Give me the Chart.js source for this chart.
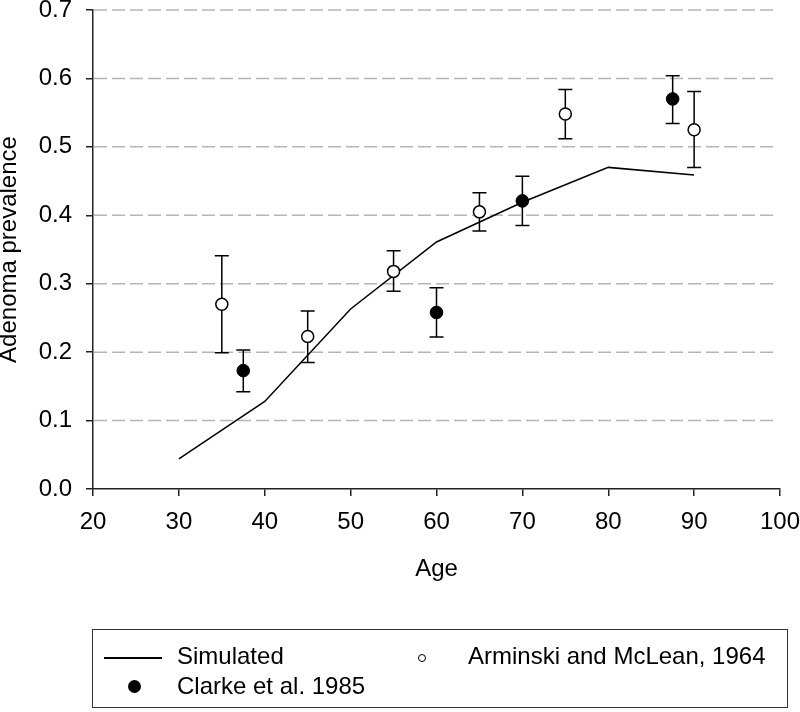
<!DOCTYPE html>
<html>
<head>
<meta charset="utf-8">
<title>Adenoma prevalence by age</title>
<script src="https://cdn.jsdelivr.net/npm/chart.js@4.4.1/dist/chart.umd.min.js"></script>
<style>
  html, body { margin: 0; padding: 0; background: #fff; }
  #wrap { position: relative; width: 800px; height: 712px; font-family: "Liberation Sans", Arial, sans-serif; }
  #legend { position: absolute; left: 92px; top: 629px; width: 696px; height: 79px; border: 1.5px solid #333; box-sizing: border-box; }
  .leg-text { position: absolute; font-size: 24px; line-height: 24px; color: #000; white-space: nowrap; }
  .leg-line { position: absolute; height: 1.5px; background: #000; }
  .leg-dot { position: absolute; border-radius: 50%; box-sizing: border-box; }
</style>
</head>
<body>
<div id="wrap">
  <canvas id="prevChart" width="800" height="712"></canvas>
  <div id="legend"></div>
</div>
<script>
// simulated curve
const simAge = [30, 40, 50, 60, 70, 80, 90];
const simPrev = [0.044, 0.128, 0.263, 0.361, 0.419, 0.470, 0.459];

// Clarke et al. 1985 (filled)
const clarkeAge = [37.5, 60, 70, 87.5];
const clarkePrev = [0.173, 0.258, 0.421, 0.570];
const clarkeLow = [0.142, 0.222, 0.385, 0.534];
const clarkeHigh = [0.203, 0.294, 0.457, 0.604];

// Arminski and McLean, 1964 (open)
const arminskiAge = [35, 45, 55, 65, 75, 90];
const arminskiPrev = [0.270, 0.223, 0.318, 0.405, 0.548, 0.525];
const arminskiLow = [0.199, 0.185, 0.289, 0.377, 0.512, 0.470];
const arminskiHigh = [0.341, 0.260, 0.348, 0.433, 0.584, 0.581];

const xTicks = [20, 30, 40, 50, 60, 70, 80, 90, 100];
const yTicks = [0, 0.1, 0.2, 0.3, 0.4, 0.5, 0.6, 0.7];

const legendLabels = ["Simulated", "Clarke et al. 1985", "Arminski and McLean, 1964"];

const FONT = "'Liberation Sans', Arial, sans-serif";

function toPoints(xs, ys) {
  return xs.map((x, i) => ({ x: x, y: ys[i] }));
}

// ------------------------------------------------------------
// dashed grid + error bars, drawn under the markers
// ------------------------------------------------------------
const gridAndErrors = {
  id: "gridAndErrors",
  beforeDatasetsDraw(chart) {
    const { ctx, chartArea, scales } = chart;
    const x = scales.x, y = scales.y;

    ctx.save();
    ctx.strokeStyle = "#b5b5b5";
    ctx.lineWidth = 1.5;
    ctx.setLineDash([13, 5]);
    yTicks.forEach(v => {
      if (v === 0) return;
      const py = y.getPixelForValue(v);
      ctx.beginPath();
      ctx.moveTo(chartArea.left + 1, py);
      ctx.lineTo(chartArea.right - 2, py);
      ctx.stroke();
    });
    ctx.restore();

    const bars = [
      [clarkeAge, clarkeLow, clarkeHigh],
      [arminskiAge, arminskiLow, arminskiHigh]
    ];
    ctx.save();
    ctx.strokeStyle = "#000";
    ctx.lineWidth = 1.5;
    bars.forEach(([ages, lo, hi]) => {
      ages.forEach((a, i) => {
        const px = x.getPixelForValue(a);
        const y1 = y.getPixelForValue(lo[i]);
        const y2 = y.getPixelForValue(hi[i]);
        ctx.beginPath();
        ctx.moveTo(px, y1); ctx.lineTo(px, y2);
        ctx.moveTo(px - 7, y1); ctx.lineTo(px + 7, y1);
        ctx.moveTo(px - 7, y2); ctx.lineTo(px + 7, y2);
        ctx.stroke();
      });
    });
    ctx.restore();
  }
};

const chart = new Chart(document.getElementById("prevChart"), {
  type: "scatter",
  data: {
    datasets: [
      {
        label: legendLabels[2],
        data: toPoints(arminskiAge, arminskiPrev),
        pointRadius: 6,
        pointBackgroundColor: "#fff",
        pointBorderColor: "#000",
        pointBorderWidth: 1.5
      },
      {
        label: legendLabels[1],
        data: toPoints(clarkeAge, clarkePrev),
        pointRadius: 6.3,
        pointBackgroundColor: "#000",
        pointBorderColor: "#000",
        pointBorderWidth: 1
      },
      {
        label: legendLabels[0],
        data: toPoints(simAge, simPrev),
        showLine: true,
        borderColor: "#000",
        borderWidth: 1.5,
        pointRadius: 0,
        tension: 0
      }
    ]
  },
  options: {
    responsive: false,
    animation: false,
    layout: { padding: { top: 10, right: 20, bottom: 123, left: 0 } },
    plugins: { legend: { display: false }, tooltip: { enabled: false } },
    scales: {
      x: {
        type: "linear",
        min: 20,
        max: 100,
        afterBuildTicks: s => { s.ticks = xTicks.map(v => ({ value: v })); },
        afterFit: s => { s.height = 100; s.paddingLeft = 0; s.paddingRight = 0; },
        ticks: { color: "#000", padding: 12, font: { family: FONT, size: 24 } },
        grid: { drawOnChartArea: false, tickLength: 7, color: "#222", lineWidth: 1.5 },
        border: { color: "#222", width: 1.5 },
        title: {
          display: true, text: "Age", color: "#000",
          padding: { top: 0, bottom: 5.6 },
          font: { family: FONT, size: 24 }
        }
      },
      y: {
        min: 0,
        max: 0.7,
        afterBuildTicks: s => { s.ticks = yTicks.map(v => ({ value: v })); },
        afterFit: s => { s.width = 93; s.paddingTop = 0; s.paddingBottom = 0; },
        ticks: {
          color: "#000", padding: 14,
          font: { family: FONT, size: 24 },
          callback: v => Number(v).toFixed(1)
        },
        grid: { drawOnChartArea: false, tickLength: 7, color: "#222", lineWidth: 1.5 },
        border: { color: "#222", width: 1.5 },
        title: {
          display: true, text: "Adenoma prevalence", color: "#000",
          padding: 0,
          font: { family: FONT, size: 24, lineHeight: 0.8 }
        }
      }
    }
  },
  plugins: [gridAndErrors]
});

// ------------------------------------------------------------
// legend box below the plot
// ------------------------------------------------------------
function buildLegend() {
  const box = document.getElementById("legend");
  box.innerHTML = `
    <div class="leg-line" style="left:11px;top:27px;width:58px;"></div>
    <div class="leg-text" style="left:84px;top:14px;">${legendLabels[0]}</div>
    <div class="leg-dot" style="left:35px;top:50px;width:13px;height:13px;background:#000;"></div>
    <div class="leg-text" style="left:84px;top:44px;">${legendLabels[1]}</div>
    <div class="leg-dot" style="left:325px;top:24px;width:8px;height:8px;border:1.2px solid #000;background:#fff;"></div>
    <div class="leg-text" style="left:375px;top:14px;">${legendLabels[2]}</div>
  `;
}
buildLegend();
</script>
</body>
</html>
